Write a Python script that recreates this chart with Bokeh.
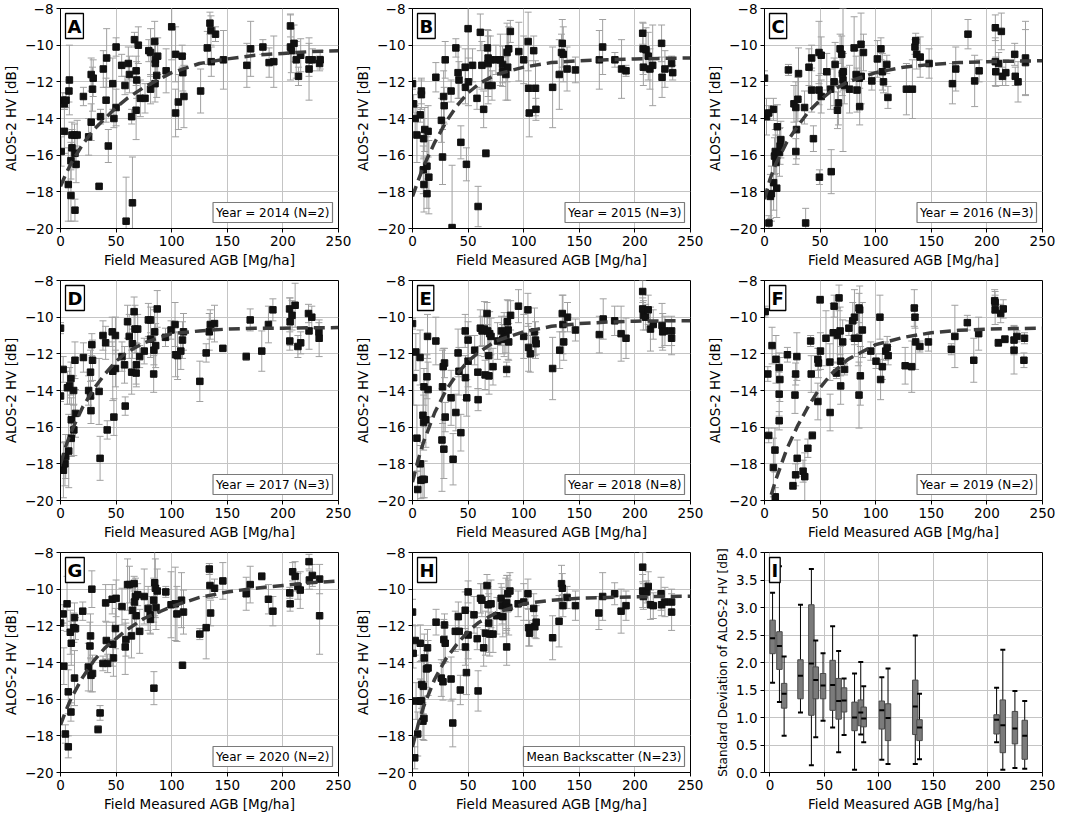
from bokeh.plotting import figure
from bokeh.layouts import gridplot
from bokeh.models import (ColumnDataSource, Range1d, FixedTicker, Whisker, TeeHead, Label)
from bokeh.embed import file_html
from bokeh.resources import INLINE

# ---------------- data ----------------
X_TICKS = [0, 50, 100, 150, 200, 250]
X_TICK_LABELS = ["0", "50", "100", "150", "200", "250"]
Y_TICKS = [-20, -18, -16, -14, -12, -10, -8]
Y_TICK_LABELS = ["\u221220", "\u221218", "\u221216", "\u221214", "\u221212", "\u221210", "\u22128"]
I_Y_TICKS = [0.0, 0.5, 1.0, 1.5, 2.0, 2.5, 3.0, 3.5, 4.0]
I_Y_TICK_LABELS = ["0.0", "0.5", "1.0", "1.5", "2.0", "2.5", "3.0", "3.5", "4.0"]

FIT_agb = [0, 5, 10, 20, 30, 40, 50, 60, 75, 100, 125, 150, 175, 200, 225, 250]

A_agb = [0.6, 2, 3.5, 5, 3.5, 7, 7.6, 8, 9.4, 9.4, 10.3, 10.3, 12.6, 13, 14, 13, 15, 20.6, 25.3, 27.6,
         27.6, 28.8, 29.4, 34.7, 36, 38.5, 41, 41.5, 43, 47, 48, 50, 50, 55, 58, 59, 61, 62, 64, 64.7,
         66.5, 68, 68.5, 68, 70, 71.8, 76, 79.4, 81, 81, 84.7, 85.3, 85.3, 85, 86.5, 87.4, 95, 100, 103.5, 103.5,
         106, 109.4, 110, 111, 126, 132, 134.4, 135.3, 135.6, 139.4, 146.5, 167.6, 171, 182, 187.6, 191.8, 206.8, 206.8, 207.6, 210,
         212, 214, 216, 223.5, 223.5, 226.5, 233, 233.5]
A_hv = [-15.8, -13.0, -13.2, -13.0, -14.7, -17.6, -12.5, -11.9, -16.3, -18.2, -14.9, -15.6, -14.9, -15.9, -16.5, -19.0, -14.9, -12.8, -15.0, -14.2,
        -11.6, -12.4, -11.8, -17.7, -13.9, -11.3, -13.0, -10.7, -15.5, -12.1, -14.0, -13.4, -10.1, -11.1, -12.2, -19.6, -11.0, -11.6, -13.9, -18.6,
        -9.7, -11.4, -11.9, -13.55, -10.0, -12.9, -12.9, -10.3, -10.4, -12.4, -9.8, -10.8, -11.0, -12.1, -11.65, -10.6, -11.4, -9.0, -10.5, -13.7,
        -13.1, -10.6, -11.5, -12.8, -12.5, -10.15, -8.8, -9.2, -10.9, -9.4, -10.8, -11.1, -10.2, -10.1, -10.95, -10.9, -8.95, -10.1, -10.3, -9.9,
        -10.8, -11.7, -10.55, -11.3, -10.8, -10.8, -11.0, -10.8]
A_sd = [0.8, 0.4, 0.3, 0.4, 1.2, 2.0, 0.6, 1.9, 1.0, 1.4, 0.7, 1.0, 0.6, 0.8, 1.0, 0.6, 0.8, 0.5, 1.0, 1.0,
        0.9, 1.2, 1.0, 0.1, 0.4, 1.0, 1.2, 1.6, 0.9, 1.4, 0.5, 1.0, 0.5, 0.6, 0.5, 2.4, 0.9, 1.0, 0.4, 2.5,
        0.4, 0.8, 1.0, 1.6, 1.0, 1.0, 0.8, 0.6, 1.3, 0.8, 1.1, 1.2, 1.1, 1.0, 1.2, 1.0, 1.2, 1.8, 1.5, 1.3,
        1.5, 0.6, 1.0, 1.7, 1.2, 0.9, 0.6, 0.8, 0.8, 0.4, 1.6, 1.2, 1.5, 0.4, 0.8, 1.4, 0.6, 1.8, 1.2, 1.0,
        1.0, 0.5, 0.9, 1.7, 0.9, 0.6, 0.4, 0.5]
A_fit = [-17.7, -17.0, -16.4, -15.4, -14.6, -14.0, -13.4, -12.9, -12.3, -11.5, -11.0, -10.75, -10.55, -10.45, -10.35, -10.3]

B_agb = [0, 1, 2.4, 4, 7, 8, 8, 10, 9.7, 10.3, 11, 13, 13, 14, 14.7, 21, 26, 27, 28, 28.5,
         29.4, 34.7, 35.6, 39, 41, 41.8, 43.5, 47.4, 47.6, 48.5, 50, 50.3, 54, 58, 59, 61, 62.4, 64, 66, 67.4,
         68, 68, 68, 71.5, 70, 75, 79, 81, 81, 84, 85, 85.6, 86.5, 88, 95.6, 100, 104, 104.4, 105, 109,
         110.6, 111, 126, 132, 134, 134.7, 135.6, 139, 146.5, 168, 171, 182, 188, 192, 207, 207.4, 207.6, 210, 212, 213.5,
         216, 224, 224.4, 227, 233, 234]
B_hv = [-12.1, -13.2, -14.0, -14.9, -13.8, -12.5, -12.7, -15.1, -16.8, -17.6, -14.6, -16.6, -18.1, -14.7, -17.2, -11.75, -14.1, -16.1, -12.8, -13.3,
        -10.8, -12.5, -19.95, -10.15, -11.5, -11.9, -15.3, -11.2, -12.3, -16.5, -9.1, -12.0, -11.1, -12.9, -18.8, -9.3, -11.1, -13.5, -15.9, -10.15,
        -11.0, -10.7, -12.2, -12.2, -10.8, -10.8, -10.8, -11.45, -11.05, -11.6, -10.4, -11.2, -10.2, -9.25, -10.35, -10.8, -9.8, -12.35, -13.7, -10.3,
        -12.35, -13.5, -12.3, -11.6, -10.4, -9.9, -10.5, -11.3, -11.35, -10.8, -10.1, -10.8, -11.3, -11.4, -9.35, -10.2, -11.2, -10.25, -10.6, -11.3,
        -11.1, -9.9, -11.75, -11.3, -11.0, -11.5]
B_sd = [0.3, 0.5, 0.7, 1.5, 0.4, 0.7, 0.8, 1.1, 1.3, 1.5, 1.2, 1.6, 0.8, 1.4, 2.0, 0.8, 1.2, 1.5, 1.4, 1.0,
        1.0, 0.6, 3.4, 0.5, 1.4, 1.0, 0.9, 1.0, 0.9, 0.9, 2.0, 1.3, 0.9, 0.6, 1.1, 1.0, 1.3, 1.0, 0.2, 1.0,
        1.8, 1.2, 1.0, 0.8, 1.3, 0.8, 1.4, 0.8, 1.0, 1.4, 1.6, 1.8, 1.2, 0.6, 1.6, 1.3, 1.6, 1.5, 1.3, 0.8,
        1.5, 0.6, 2.2, 1.9, 1.0, 1.3, 1.5, 1.2, 0.7, 1.6, 1.5, 0.4, 1.6, 0.3, 0.6, 1.4, 1.0, 1.2, 1.3, 1.1,
        2.2, 1.0, 1.1, 1.0, 0.4, 0.4]
B_fit = [-18.25, -17.4, -16.6, -15.3, -14.2, -13.3, -12.6, -12.1, -11.6, -11.2, -10.95, -10.85, -10.8, -10.75, -10.72, -10.7]

C_agb = [0, 1.8, 3.8, 4, 5.3, 6.2, 8, 8.2, 9, 10.3, 9.7, 11, 11.5, 13.5, 14, 14.7, 21.5, 26.5, 28.2, 28.2,
         28.8, 30, 30.6, 36, 37, 40, 42.4, 42.4, 44, 49, 49.4, 49, 51, 51, 56, 60, 59.4, 62.6, 63.5, 65.6,
         66.5, 68, 69.4, 70, 70.6, 71.8, 70.9, 76.5, 80.6, 82.4, 83.2, 85.3, 85.6, 86.8, 87, 89, 96.5, 101.5, 104.7, 106,
         107, 110, 111, 127.6, 133, 135.3, 136, 136.8, 140, 148, 169, 172, 183, 189, 193, 207.6, 207.6, 208, 210.6, 213,
         214, 217, 225, 225.5, 228, 234.7, 234.7]
C_hv = [-11.8, -13.9, -13.7, -19.7, -18.25, -18.1, -13.5, -17.5, -16.05, -16.4, -15.8, -17.8, -14.45, -15.85, -15.5, -15.15, -11.35, -13.2, -13.4, -15.8,
        -14.6, -12.95, -11.55, -13.4, -19.7, -11.2, -10.7, -12.45, -15.1, -10.4, -17.2, -12.45, -10.55, -12.8, -11.45, -16.9, -12.4, -12.0, -11.05, -13.55,
        -13.15, -10.2, -10.5, -11.55, -11.9, -12.2, -11.45, -12.4, -10.15, -11.6, -12.45, -11.8, -13.35, -9.95, -11.7, -10.4, -11.95, -10.75, -10.2, -11.45,
        -12.0, -11.05, -12.85, -12.4, -12.4, -10.1, -9.75, -10.5, -10.65, -11.0, -12.1, -11.3, -9.4, -11.95, -11.4, -9.05, -10.9, -11.45, -11.0, -9.25,
        -11.7, -11.5, -10.5, -11.7, -12.0, -10.7, -10.95]
C_sd = [0.4, 1.0, 0.4, 0.4, 1.2, 1.5, 0.6, 1.5, 1.0, 1.5, 1.2, 1.6, 1.2, 1.3, 1.0, 1.0, 0.3, 1.0, 1.4, 0.7,
        1.6, 1.2, 1.4, 0.9, 0.8, 1.0, 0.7, 1.2, 0.7, 1.7, 0.4, 0.8, 1.0, 0.9, 1.0, 1.2, 1.1, 1.3, 1.2, 1.0,
        1.2, 0.8, 1.0, 1.2, 3.9, 1.0, 1.0, 1.3, 1.7, 1.0, 1.2, 1.5, 1.0, 1.7, 1.5, 1.0, 0.5, 1.0, 0.6, 1.0,
        0.6, 0.5, 0.6, 1.4, 1.6, 0.4, 0.4, 0.8, 1.1, 0.8, 1.1, 1.2, 0.8, 1.4, 0.6, 0.7, 1.3, 0.8, 0.6, 1.0,
        0.5, 0.7, 0.6, 0.5, 1.1, 2.0, 1.8]
C_fit = [-18.4, -17.3, -16.5, -15.3, -14.4, -13.6, -13.0, -12.5, -12.0, -11.5, -11.2, -11.05, -10.95, -10.9, -10.87, -10.85]

D_agb = [0, 0, 2.4, 2.6, 4, 4.7, 6.2, 7.4, 8.2, 9.4, 9.7, 9.7, 11.8, 12, 13, 13.5, 20.6, 25.3, 27, 27,
         27.4, 28.2, 28.8, 34.7, 35.6, 38.2, 40.6, 42, 46.5, 47, 48, 49.4, 49.4, 55.3, 57.6, 58.2, 60.3, 61.8, 64, 64.7,
         66.2, 67, 68, 68.2, 69.4, 71.2, 75.3, 79, 81, 81, 83.8, 84, 84.7, 85.6, 87, 94.4, 99.4, 103, 103.5, 105.3,
         108.2, 109.7, 110.6, 125.3, 131, 133.8, 134.7, 138.5, 146, 167, 170.6, 181, 187, 191, 206, 206.5, 206.2, 208.2, 211, 213.5,
         216, 223, 223.5, 226, 232.4, 232.6]
D_hv = [-10.6, -14.3, -12.85, -18.35, -18.0, -17.6, -13.85, -17.3, -13.75, -13.35, -15.6, -16.6, -14.0, -16.15, -12.35, -15.25, -12.2, -14.0, -13.0, -14.3,
        -15.1, -11.5, -12.35, -14.05, -17.7, -11.0, -11.4, -16.15, -10.8, -12.95, -15.45, -12.8, -11.0, -12.15, -12.6, -14.85, -10.25, -11.05, -13.0, -11.45,
        -9.7, -10.65, -13.05, -12.6, -10.65, -12.15, -11.85, -10.15, -10.15, -11.2, -13.1, -11.8, -10.8, -11.55, -9.55, -11.1, -10.7, -10.4, -12.05, -12.1,
        -11.85, -11.25, -10.8, -13.5, -11.95, -10.8, -10.4, -10.35, -11.7, -12.15, -10.15, -11.85, -10.4, -9.6, -9.55, -10.25, -11.3, -9.9, -9.35, -11.6,
        -11.4, -9.8, -10.75, -10.0, -10.8, -11.15]
D_sd = [0.3, 0.3, 0.7, 1.5, 1.2, 1.2, 0.9, 2.0, 1.0, 0.9, 1.2, 1.0, 0.8, 1.4, 1.0, 1.3, 0.8, 0.8, 1.2, 0.8,
        0.7, 0.6, 1.1, 1.8, 1.2, 0.8, 0.9, 0.5, 0.8, 1.6, 1.0, 1.0, 1.0, 0.8, 1.0, 0.5, 0.9, 1.2, 1.2, 0.8,
        0.8, 1.3, 0.6, 1.2, 0.8, 0.6, 0.7, 0.9, 0.7, 1.0, 1.0, 0.8, 1.2, 1.2, 1.0, 0.5, 0.5, 1.2, 1.2, 1.3,
        1.0, 1.0, 1.0, 1.1, 0.5, 1.0, 0.8, 1.0, 0.1, 0.2, 0.6, 1.1, 1.0, 0.6, 0.6, 1.3, 0.5, 0.8, 1.2, 0.6,
        0.6, 0.5, 1.0, 0.6, 0.5, 1.0]
D_fit = [-18.0, -17.0, -16.2, -14.9, -13.9, -13.1, -12.4, -11.9, -11.4, -10.9, -10.75, -10.65, -10.6, -10.6, -10.58, -10.57]

E_agb = [0, 1, 3, 4, 4.7, 6.8, 7, 7.6, 9.4, 10.6, 9.4, 10, 10.3, 12, 13, 13.5, 14, 21, 26.5, 27,
         27.6, 28.2, 28.8, 29.4, 34.7, 36.5, 39, 41, 41.8, 43.5, 47.4, 47.6, 48.8, 50, 50, 55.9, 58.8, 59, 61, 62.6,
         64.7, 65.3, 67, 67.6, 68.5, 68.8, 69.4, 70.6, 72.4, 76.5, 80, 81.2, 82.4, 84, 84.7, 85.3, 86, 86.5, 88.2, 95.3,
         100, 103.8, 104.4, 106, 109.7, 110.6, 111.2, 126, 132.4, 134.7, 135.3, 136, 139.4, 146.5, 168, 171.5, 181.8, 187.6, 192, 207,
         207, 207.6, 209.7, 212, 214, 216.5, 224.4, 225, 227, 233, 233]
E_hv = [-10.35, -13.3, -11.9, -16.6, -19.4, -12.2, -18.0, -18.9, -18.85, -18.85, -15.35, -15.75, -13.8, -15.6, -13.25, -11.05, -13.95, -11.3, -16.7, -13.8,
        -12.7, -17.2, -12.5, -15.45, -14.4, -17.75, -15.2, -11.95, -12.95, -16.3, -10.75, -13.3, -14.4, -11.25, -12.4, -11.8, -13.0, -14.5, -10.6, -10.75,
        -10.65, -13.15, -9.8, -10.75, -12.1, -13.2, -10.9, -11.05, -12.7, -11.3, -10.75, -11.2, -10.95, -10.95, -12.85, -10.25, -10.7, -11.35, -9.9, -9.4,
        -11.05, -9.6, -11.65, -12.0, -10.8, -11.25, -11.45, -12.8, -11.8, -9.8, -10.4, -11.35, -10.0, -10.7, -10.95, -10.1, -10.2, -10.9, -11.15, -8.6,
        -9.55, -9.9, -10.0, -9.6, -10.65, -10.4, -10.45, -10.8, -10.75, -10.75, -11.15]
E_sd = [0.3, 1.5, 1.0, 1.8, 1.0, 1.5, 1.0, 1.0, 1.0, 1.0, 1.5, 1.5, 1.0, 1.5, 1.2, 1.2, 1.5, 1.3, 2.8, 2.0,
        1.0, 1.6, 0.8, 0.8, 1.5, 1.4, 1.0, 1.3, 1.3, 1.0, 0.9, 1.2, 1.0, 1.0, 1.4, 0.8, 0.9, 0.6, 1.0, 0.8,
        1.5, 0.8, 0.6, 1.0, 1.3, 1.0, 1.2, 1.0, 1.0, 1.0, 0.8, 0.8, 1.2, 1.0, 0.4, 1.2, 1.6, 1.0, 0.8, 0.9,
        1.2, 0.9, 1.3, 1.0, 1.3, 1.0, 0.6, 1.7, 1.0, 1.0, 1.6, 1.0, 0.8, 0.6, 1.0, 1.1, 0.8, 1.5, 1.1, 0.6,
        0.6, 0.8, 0.7, 0.8, 1.2, 0.8, 1.2, 1.0, 0.8, 0.8, 0.9]
E_fit = [-19.0, -17.8, -16.8, -15.2, -14.0, -13.1, -12.4, -11.9, -11.3, -10.8, -10.5, -10.35, -10.27, -10.22, -10.2, -10.2]

F_agb = [0.6, 3, 3.8, 6.8, 8, 9.4, 9.7, 10.3, 13.2, 13.8, 13.2, 13.2, 20.6, 25.6, 27.4, 28, 28, 29.1, 29.4, 34.7,
         36.2, 39, 41.5, 42, 43, 48, 48.5, 48, 50, 50.3, 55.3, 58.8, 59, 61.8, 62.6, 64.7, 65.6, 67, 68, 68.5,
         68.5, 70.3, 72, 75.9, 79.4, 80.9, 80.9, 84.4, 85, 85, 85.6, 86.2, 88, 95.6, 100.3, 103.8, 104.4, 106, 109, 110.3,
         111.2, 126.5, 132.4, 134.7, 135.3, 135.9, 139.7, 147.4, 168, 171.2, 182.4, 188.2, 192.6, 207, 207.4, 207.4, 210.3, 212.4, 214.7, 216.2,
         224.4, 224.4, 227, 233.8, 233.3]
F_hv = [-9.7, -13.1, -16.45, -11.55, -18.2, -17.25, -19.8, -12.3, -12.75, -13.4, -14.2, -15.65, -12.05, -19.2, -14.25, -13.1, -18.6, -12.15, -17.7, -18.4,
        -18.7, -17.15, -11.3, -13.1, -16.45, -12.3, -12.5, -14.6, -9.05, -11.85, -11.15, -12.45, -15.2, -10.85, -9.4, -13.05, -11.0, -8.95, -10.75, -12.4,
        -13.75, -11.35, -12.85, -10.6, -10.2, -10.0, -11.15, -11.15, -14.25, -9.5, -9.6, -13.2, -10.7, -11.85, -12.4, -10.0, -13.4, -12.7, -11.85, -11.65,
        -12.1, -12.65, -12.7, -9.5, -10.0, -11.35, -11.6, -11.35, -11.75, -11.05, -10.3, -12.35, -10.9, -9.1, -9.2, -9.6, -11.4, -9.8, -9.55, -11.2,
        -11.25, -11.8, -11.05, -11.15, -12.35]
F_sd = [0.3, 0.4, 0.4, 1.0, 1.6, 1.2, 0.5, 1.3, 0.8, 1.2, 1.2, 0.5, 0.4, 0.2, 1.0, 0.6, 0.6, 1.3, 1.0, 0.6,
        1.3, 0.5, 0.3, 1.0, 0.2, 0.6, 0.8, 1.0, 0.2, 1.0, 1.5, 1.0, 1.0, 1.6, 0.6, 0.3, 1.5, 0.7, 1.3, 0.8,
        1.0, 1.2, 0.3, 0.4, 1.0, 1.5, 1.0, 1.5, 1.8, 0.8, 1.3, 1.6, 1.5, 0.5, 0.4, 1.2, 1.1, 0.7, 0.5, 0.6,
        0.5, 1.0, 1.4, 1.0, 0.6, 1.5, 0.3, 0.5, 0.3, 1.7, 0.4, 1.2, 0.9, 0.6, 0.6, 0.8, 0.2, 0.5, 0.5, 0.2,
        0.8, 1.3, 0.3, 0.3, 0.4]
F_fit = [-21.5, -19.9, -18.9, -17.2, -15.9, -14.8, -13.85, -13.1, -12.3, -11.5, -11.1, -10.85, -10.72, -10.65, -10.62, -10.6]

G_agb = [0, 2.4, 3, 4.4, 5.9, 7, 7, 8.8, 9.4, 9.7, 12, 12.6, 12.6, 13.5, 20, 25, 26.5, 27, 27.4, 28.2,
         28.8, 33.8, 35.6, 38.2, 40.6, 41.2, 42.4, 46.5, 47, 47.6, 49.4, 50, 55.3, 58.2, 58.8, 60.3, 62, 63.8, 64.7, 66.2,
         66.5, 67.4, 68, 69.4, 71.2, 75.3, 78.8, 80.6, 80.9, 83.8, 84, 84.7, 85.3, 85.9, 87, 94.7, 99.4, 103.2, 104.7, 108.8,
         109.7, 110.6, 125.3, 131, 133.8, 134.4, 135, 138.5, 146, 167, 170.6, 181, 187, 191, 206.2, 206.5, 208.8, 211, 213.5, 215.6,
         223.5, 223.8, 226.5, 233, 233]
G_hv = [-11.85, -11.35, -14.2, -17.9, -10.8, -15.6, -18.6, -12.35, -16.7, -12.95, -12.1, -11.55, -14.85, -12.15, -11.2, -14.25, -13.1, -12.55, -14.7, -10.0,
        -14.6, -17.65, -16.75, -14.05, -10.75, -12.8, -14.05, -10.55, -13.0, -13.75, -12.15, -10.5, -10.95, -13.15, -12.75, -9.75, -9.75, -12.55, -11.15, -9.7,
        -10.7, -10.4, -11.45, -10.3, -12.3, -10.4, -11.05, -11.4, -11.65, -10.6, -15.4, -9.65, -9.95, -11.0, -10.1, -10.15, -10.85, -10.8, -11.35, -10.6,
        -14.15, -11.25, -12.45, -12.1, -8.9, -9.8, -11.3, -9.95, -9.55, -10.25, -9.75, -9.3, -10.55, -11.2, -10.2, -10.8, -9.05, -9.3, -9.85, -10.05,
        -8.5, -9.5, -9.25, -9.45, -11.45]
G_sd = [0.4, 0.5, 1.0, 0.5, 1.5, 1.2, 0.6, 1.2, 0.5, 1.2, 0.8, 0.8, 1.5, 0.6, 0.5, 1.3, 1.3, 1.2, 0.9, 1.0,
        1.0, 0.2, 0.4, 0.4, 1.0, 1.0, 0.5, 0.8, 1.2, 1.0, 1.1, 1.0, 1.0, 1.5, 0.9, 1.4, 1.0, 1.2, 1.2, 0.4,
        1.2, 1.0, 1.0, 0.6, 1.2, 1.5, 1.2, 1.0, 0.8, 1.2, 0.9, 1.8, 1.6, 1.2, 1.2, 0.3, 1.8, 2.0, 1.5, 1.5,
        0.1, 1.2, 0.3, 1.7, 0.3, 0.7, 0.7, 0.5, 1.0, 0.9, 1.0, 0.2, 0.8, 0.8, 0.3, 0.4, 0.5, 0.8, 0.7, 1.0,
        0.4, 0.5, 0.6, 0.8, 2.1]
G_fit = [-17.4, -16.6, -15.9, -14.8, -13.9, -13.2, -12.7, -12.2, -11.6, -10.95, -10.45, -10.15, -9.95, -9.8, -9.65, -9.55]

H_agb = [0, 0.6, 2, 2.4, 3.2, 4.7, 7, 7, 8.2, 8.2, 9.7, 9.4, 10.3, 10.6, 12.6, 13.5, 14, 21.2, 25.9, 27.4,
         28.2, 28.8, 29.4, 34.7, 36.2, 38.5, 41.2, 42, 43, 47.4, 47.6, 48.5, 50, 50, 55.3, 58.2, 59, 61.2, 62.4, 64,
         65.6, 67, 68, 68.5, 69.4, 70.6, 72.4, 75.9, 79.7, 80.6, 81.2, 84, 84.7, 84.7, 85.6, 86.5, 87.6, 95, 100, 103.8,
         104.4, 105.3, 109, 110, 111.2, 126, 131.8, 134, 134.7, 135.3, 139, 146.5, 167.6, 171, 181.8, 187.6, 192, 207, 207, 207.6,
         210.6, 212, 214, 216.5, 223.5, 224, 227, 233, 233]
H_hv = [-11.25, -13.5, -19.2, -12.8, -16.1, -17.9, -12.95, -16.1, -16.1, -15.2, -15.3, -17.2, -17.05, -13.75, -14.35, -13.2, -14.3, -11.8, -14.85, -15.05,
        -12.75, -11.95, -12.95, -14.9, -17.3, -12.3, -11.5, -12.3, -15.5, -11.15, -13.15, -14.55, -10.15, -12.5, -11.4, -12.7, -15.55, -10.5, -10.6, -13.2,
        -12.4, -9.8, -10.85, -11.85, -12.45, -10.8, -12.45, -11.45, -10.5, -10.9, -11.5, -10.9, -10.75, -13.15, -10.25, -11.0, -10.1, -10.8, -10.7, -10.25,
        -12.1, -12.4, -11.05, -12.05, -11.8, -12.65, -11.75, -9.7, -9.95, -10.9, -10.45, -10.9, -11.3, -10.4, -10.25, -11.2, -10.9, -8.8, -10.1, -10.4,
        -10.15, -9.85, -10.85, -10.9, -10.25, -10.85, -10.7, -10.7, -11.25]
H_sd = [0.7, 0.8, 0.6, 0.8, 1.0, 1.2, 1.0, 1.2, 1.0, 1.3, 1.5, 1.0, 1.2, 1.3, 1.0, 1.0, 1.5, 0.7, 1.0, 1.0,
        1.1, 0.6, 1.0, 1.2, 1.3, 1.1, 0.8, 1.0, 0.8, 1.0, 1.0, 1.2, 0.6, 1.3, 1.0, 0.6, 1.1, 0.8, 0.9, 1.0,
        1.2, 0.6, 1.0, 1.6, 1.2, 1.3, 1.0, 1.0, 0.8, 1.0, 1.1, 1.5, 1.5, 1.0, 1.0, 1.5, 1.0, 0.7, 1.0, 0.8,
        1.0, 0.7, 0.8, 0.6, 0.9, 1.2, 1.4, 1.0, 0.8, 0.6, 0.6, 0.8, 0.9, 1.3, 0.6, 1.2, 0.8, 0.8, 0.9, 0.7,
        0.6, 0.8, 0.8, 0.7, 0.9, 0.6, 0.8, 0.7, 1.0]
H_fit = [-18.6, -17.4, -16.4, -14.9, -13.8, -13.0, -12.3, -11.8, -11.3, -10.8, -10.6, -10.5, -10.45, -10.42, -10.4, -10.38]

I_agb = [2.4, 8.7, 13, 28, 38, 42, 48.7, 57.5, 63, 68, 77.6, 83.3, 86, 102.6, 108.3, 133.3, 137.2, 207.9, 213.6, 224.7, 233.7]
I_lo = [1.63, 1.28, 0.67, 1.09, 0.13, 0.64, 0.94, 0.82, 0.37, 0.68, 0.05, 0.69, 0.55, 0.23, 0.155, 0.155, 0.24, 0.55, 0.05, 0.08, 0.07]
I_q1 = [2.16, 1.875, 1.17, 1.34, 1.04, 1.34, 1.34, 1.13, 0.97, 1.10, 0.76, 0.85, 0.83, 0.79, 0.58, 0.69, 0.58, 0.70, 0.36, 0.52, 0.24]
I_med = [2.44, 2.30, 1.43, 1.76, 1.98, 1.68, 1.58, 1.59, 1.30, 1.31, 1.00, 1.09, 0.98, 1.13, 0.99, 1.20, 0.82, 0.96, 0.86, 0.80, 0.67]
I_q3 = [2.77, 2.56, 1.62, 2.05, 3.05, 1.92, 1.80, 2.04, 1.71, 1.54, 1.28, 1.32, 1.19, 1.30, 1.25, 1.68, 0.96, 1.05, 1.32, 1.11, 0.95]
I_hi = [3.27, 3.75, 2.11, 3.05, 3.70, 2.40, 2.17, 2.66, 2.21, 1.71, 1.80, 2.01, 1.57, 1.73, 1.89, 2.49, 1.43, 1.54, 2.23, 1.48, 1.30]

PANEL_LETTERS = ["A", "B", "C", "D", "E", "F", "G", "H", "I"]
PANEL_NOTES = ["Year = 2014 (N=2)", "Year = 2015 (N=3)", "Year = 2016 (N=3)", "Year = 2017 (N=3)",
               "Year = 2018 (N=8)", "Year = 2019 (N=2)", "Year = 2020 (N=2)", "Mean Backscatter (N=23)"]

# ---------------- styling ----------------
FONT = "DejaVu Sans"
PW, PH = 352, 272
GRID = "#c4c4c4"
ERR = "#a0a0a0"


def base_figure(xr, yr, xticks, xlabels, yticks, ylabels, ylabel, ylabel_size="13.5px"):
    p = figure(width=PW, height=PH, x_range=xr, y_range=yr,
               output_backend="svg", toolbar_location=None,
               min_border_left=52, min_border_right=14, min_border_top=8, min_border_bottom=44)
    p.background_fill_color = "white"
    p.border_fill_color = "white"
    p.outline_line_color = "black"
    p.outline_line_width = 1
    p.xaxis.ticker = FixedTicker(ticks=xticks)
    p.yaxis.ticker = FixedTicker(ticks=yticks)
    p.xaxis.major_label_overrides = {t: l for t, l in zip(xticks, xlabels)}
    p.yaxis.major_label_overrides = {t: l for t, l in zip(yticks, ylabels)}
    p.xaxis.axis_label = "Field Measured AGB [Mg/ha]"
    p.yaxis.axis_label = ylabel
    for ax in (p.xaxis[0], p.yaxis[0]):
        ax.axis_label_text_font = FONT
        ax.axis_label_text_font_size = "13.5px"
        ax.axis_label_text_font_style = "normal"
        ax.axis_label_text_color = "black"
        ax.axis_label_standoff = 3
        ax.major_label_text_font = FONT
        ax.major_label_text_font_size = "13.5px"
        ax.major_label_text_color = "black"
        ax.major_label_standoff = 3
        ax.minor_tick_line_color = None
        ax.major_tick_in = 0
        ax.major_tick_out = 4
        ax.major_tick_line_color = "black"
        ax.axis_line_color = "black"
    p.yaxis[0].axis_label_text_font_size = ylabel_size
    p.xgrid.grid_line_color = GRID
    p.ygrid.grid_line_color = GRID
    p.xgrid.grid_line_width = 1
    p.ygrid.grid_line_width = 1
    return p


def letter_label(p, letter, x0, y1):
    p.add_layout(Label(x=x0, y=y1, x_offset=5, y_offset=-5, anchor="top_left", text=letter,
                       text_font=FONT, text_font_style="bold", text_font_size="18px",
                       text_color="black", padding=2, background_fill_color="white",
                       border_line_color="black", border_line_width=1.3))


def scatter_panel(letter, agb, hv, sd, fit, note):
    p = base_figure(Range1d(0, 250), Range1d(-20, -8), X_TICKS, X_TICK_LABELS,
                    Y_TICKS, Y_TICK_LABELS, "ALOS-2 HV [dB]")
    src = ColumnDataSource(dict(x=agb, y=hv,
                                lo=[h - s for h, s in zip(hv, sd)],
                                hi=[h + s for h, s in zip(hv, sd)]))
    w = Whisker(source=src, base="x", upper="hi", lower="lo", dimension="height",
                line_color=ERR, line_width=1,
                upper_head=TeeHead(size=7, line_color=ERR, line_width=1),
                lower_head=TeeHead(size=7, line_color=ERR, line_width=1))
    p.add_layout(w)
    p.scatter("x", "y", source=src, marker="square", size=6.5, fill_color="#111111", line_color="#111111")
    p.line(FIT_agb, fit, line_color="#3c3c3c", line_width=3.5, line_dash="11 6")
    letter_label(p, letter, 0, -8)
    p.add_layout(Label(x=250, y=-20, x_offset=-6, y_offset=6, anchor="bottom_right", text=note,
                       text_font=FONT, text_font_size="12px", text_color="black",
                       padding=3, background_fill_color="white",
                       border_line_color="#7a7a7a", border_line_width=1.2))
    return p


panels = []
datasets = [(A_agb, A_hv, A_sd, A_fit), (B_agb, B_hv, B_sd, B_fit), (C_agb, C_hv, C_sd, C_fit),
            (D_agb, D_hv, D_sd, D_fit), (E_agb, E_hv, E_sd, E_fit), (F_agb, F_hv, F_sd, F_fit),
            (G_agb, G_hv, G_sd, G_fit), (H_agb, H_hv, H_sd, H_fit)]
for i, (ag, hv, sd, fit) in enumerate(datasets):
    assert len(ag) == len(hv) == len(sd), (PANEL_LETTERS[i], len(ag), len(hv), len(sd))
    panels.append(scatter_panel(PANEL_LETTERS[i], ag, hv, sd, fit, PANEL_NOTES[i]))

# panel I: box plots
pI = base_figure(Range1d(-5, 250), Range1d(0, 4), X_TICKS, X_TICK_LABELS,
                 I_Y_TICKS, I_Y_TICK_LABELS, "Standard Deviation of ALOS-2 HV [dB]", ylabel_size="12px")
bsrc = ColumnDataSource(dict(x=I_agb, lo=I_lo, q1=I_q1, med=I_med, q3=I_q3, hi=I_hi))
pI.segment(x0="x", y0="lo", x1="x", y1="hi", source=bsrc, line_color="black", line_width=1)
pI.vbar(x="x", width=5, bottom="q1", top="q3", source=bsrc, fill_color="#7b7b7b", line_color="#4a4a4a", line_width=1)
pI.scatter("x", "lo", source=bsrc, marker="dash", size=5, line_color="black", line_width=2)
pI.scatter("x", "hi", source=bsrc, marker="dash", size=5, line_color="black", line_width=2)
pI.scatter("x", "med", source=bsrc, marker="dash", size=5, line_color="black", line_width=2)
letter_label(pI, "I", -5, 4)
panels.append(pI)

grid = gridplot([panels[0:3], panels[3:6], panels[6:9]], toolbar_location=None)

open("out.html", "w").write(file_html(grid, INLINE))
